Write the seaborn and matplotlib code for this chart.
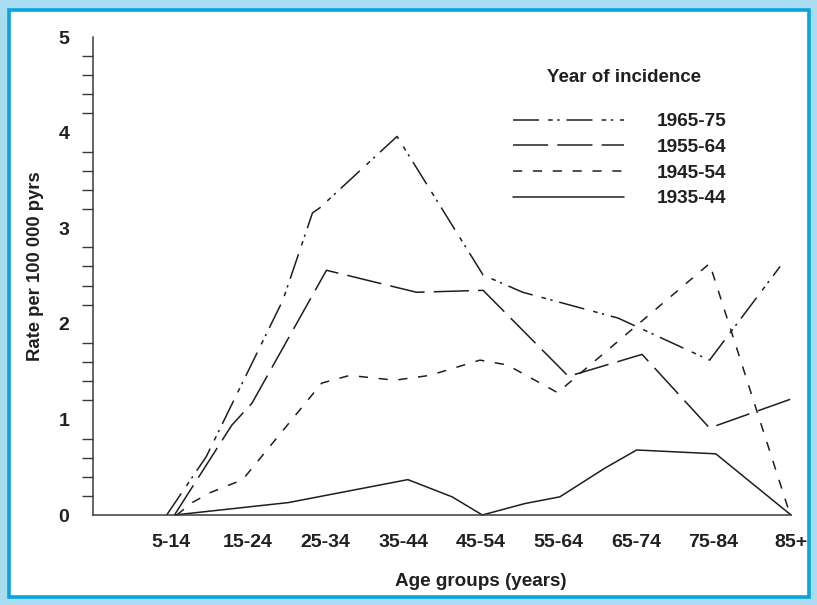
import matplotlib
matplotlib.use("Agg")
import matplotlib.pyplot as plt
from matplotlib.patches import Rectangle
from matplotlib.lines import Line2D
from matplotlib.ticker import MultipleLocator, FixedLocator
import seaborn as sns
import pandas as pd

# Age group categories placed at positions 1..9 on the x axis
age_groups = ["5-14", "15-24", "25-34", "35-44", "45-54", "55-64", "65-74", "75-84", "85+"]

# Incidence rate per 100 000 person-years by period of incidence
x_1935 = [1.05, 2.52, 4.06, 4.63, 5.02, 5.57, 6.02, 6.60, 7.01, 8.03, 9.0]
y_1935 = [0.0, 0.13, 0.37, 0.19, 0.0, 0.12, 0.19, 0.49, 0.68, 0.64, 0.0]

x_1945 = [1.08, 1.28, 1.50, 1.93, 2.95, 3.31, 3.89, 4.34, 4.99, 5.34, 5.99, 7.95, 8.99]
y_1945 = [0.0, 0.13, 0.23, 0.37, 1.38, 1.46, 1.41, 1.46, 1.62, 1.57, 1.28, 2.63, 0.0]

x_1955 = [1.05, 1.79, 2.05, 3.01, 4.17, 5.03, 6.13, 7.08, 7.95, 8.99]
y_1955 = [0.0, 0.94, 1.17, 2.56, 2.33, 2.35, 1.45, 1.68, 0.91, 1.21]

x_1965 = [0.95, 1.46, 2.45, 2.83, 2.92, 3.92, 5.03, 5.54, 6.77, 7.95, 8.86]
y_1965 = [0.0, 0.61, 2.25, 3.16, 3.21, 3.96, 2.51, 2.33, 2.06, 1.62, 2.60]

periods = ["1965-75", "1955-64", "1945-54", "1935-44"]

sns.set_theme(style="white")
plt.rcParams["font.family"] = ["Liberation Sans", "DejaVu Sans"]
plt.rcParams["font.weight"] = "bold"

INK = "#231f20"
AXIS = "#3a3a3a"
LINE = "#1e1e1e"

fig = plt.figure(figsize=(8.17, 6.05), dpi=100)
fig.patch.set_facecolor("#a9dcf0")
# white panel with a blue rule around it
fig.add_artist(Rectangle((9 / 817, 1 - 597 / 605), 800 / 817, 587 / 605,
                         transform=fig.transFigure, facecolor="white",
                         edgecolor="#0aa3dc", linewidth=2.6, zorder=0))

ax = fig.add_axes([93 / 817, 1 - 515 / 605, 698 / 817, 478 / 605])
ax.set_facecolor("none")

styles = {
    "1965-75": (0, (17, 6, 3, 3, 1.5, 4.5)),
    "1955-64": (0, (23, 6)),
    "1945-54": (0, (6, 7)),
    "1935-44": "-",
}
series = {
    "1965-75": (x_1965, y_1965),
    "1955-64": (x_1955, y_1955),
    "1945-54": (x_1945, y_1945),
    "1935-44": (x_1935, y_1935),
}

for name in periods:
    xs, ys = series[name]
    df = pd.DataFrame({"age": xs, "rate": ys})
    sns.lineplot(data=df, x="age", y="rate", ax=ax, color=LINE, linewidth=1.1,
                 linestyle=styles[name], estimator=None, sort=False,
                 legend=False, clip_on=False)

ax.set_xlim(0, 9)
ax.set_ylim(0, 5)

for side in ["top", "right"]:
    ax.spines[side].set_visible(False)
for side in ["left", "bottom"]:
    ax.spines[side].set_color(AXIS)
    ax.spines[side].set_linewidth(1.1)

ax.xaxis.set_major_locator(FixedLocator(range(0, 10)))
ax.set_xticklabels([""] + age_groups)
ax.yaxis.set_major_locator(MultipleLocator(1))
ax.yaxis.set_minor_locator(MultipleLocator(0.2))
ax.tick_params(axis="both", which="both", direction="out", length=8, width=1.0,
               color=AXIS, labelcolor=INK, labelsize=14)
ax.tick_params(axis="x", pad=6)
ax.tick_params(axis="y", pad=9)
ax.tick_params(axis="y", which="minor", left=True)
for lab in ax.get_xticklabels() + ax.get_yticklabels():
    lab.set_fontweight("bold")

ax.set_xlabel("Age groups (years)", fontsize=13.6, fontweight="bold", color=INK)
ax.xaxis.label.set_verticalalignment("center")
ax.xaxis.set_label_coords(0.556, (515 - 582) / 478)
ax.set_ylabel("Rate per 100 000 pyrs", fontsize=13.3, fontweight="bold", color=INK)
ax.yaxis.label.set_verticalalignment("center")
ax.yaxis.set_label_coords((36 - 93) / 698, 0.52)

# legend
handles = [Line2D([], [], color=LINE, linewidth=1.1, linestyle=styles[p]) for p in periods]
leg = ax.legend(handles, periods, loc="upper left",
                bbox_to_anchor=(513 / 817, 1 - 113 / 605), bbox_transform=fig.transFigure,
                frameon=False, borderpad=0, borderaxespad=0,
                handlelength=5.85, handletextpad=1.7, labelspacing=0.44,
                prop={"size": 13.7, "weight": "bold"})
for t in leg.get_texts():
    t.set_color(INK)
fig.text(624 / 817, 1 - 78 / 605, "Year of incidence", ha="center", va="center",
         fontsize=13.5, fontweight="bold", color=INK)

fig.savefig("out.png", dpi=100, facecolor=fig.get_facecolor())
